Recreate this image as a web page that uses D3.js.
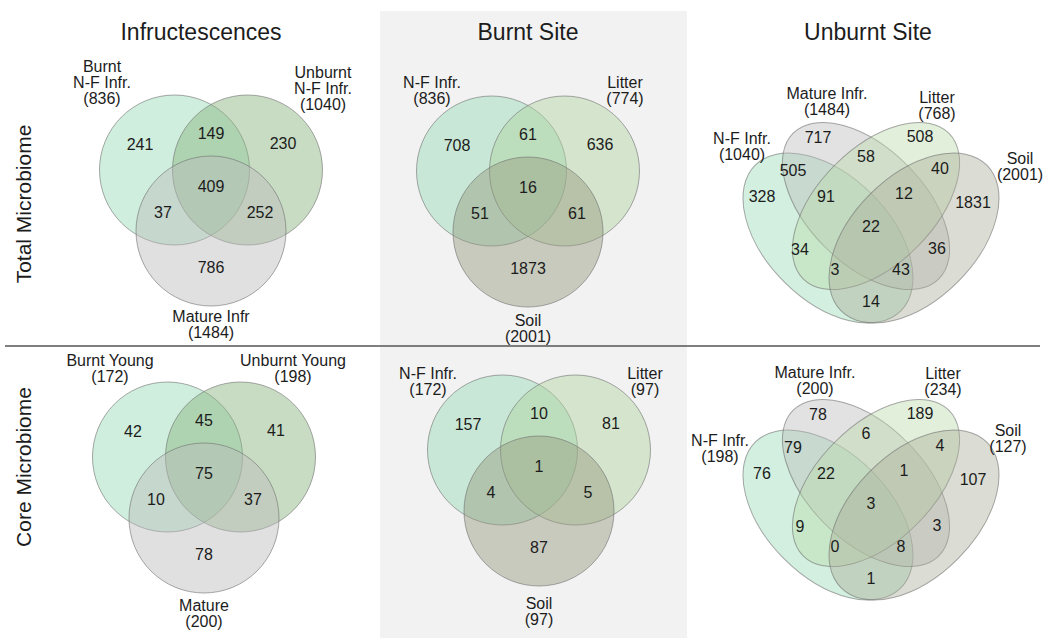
<!DOCTYPE html>
<html>
<head>
<meta charset="utf-8">
<script src="https://cdn.jsdelivr.net/npm/d3@7"></script>
<style>
  body { margin: 0; background: #fff; }
  text { font-family: "Liberation Sans", Arial, sans-serif; fill: #1c1c1c; }
</style>
</head>
<body>
<svg id="chart" width="1045" height="638"></svg>
<script>
// ---- data ----
var columnTitles = ["Infructescences", "Burnt Site", "Unburnt Site"];
var rowTitles = ["Total Microbiome", "Core Microbiome"];

// 3-set regions: onlyA, A&B, onlyB, A&B&C, A&C, B&C, onlyC
var infrTotalNames = [["Burnt", "N-F Infr."], ["Unburnt", "N-F Infr."], ["Mature Infr"]];
var infrTotalSizes = [836, 1040, 1484];
var infrTotalRegions = [241, 149, 230, 409, 37, 252, 786];

var burntTotalNames = [["N-F Infr."], ["Litter"], ["Soil"]];
var burntTotalSizes = [836, 774, 2001];
var burntTotalRegions = [708, 61, 636, 16, 51, 61, 1873];

var infrCoreNames = [["Burnt Young"], ["Unburnt Young"], ["Mature"]];
var infrCoreSizes = [172, 198, 200];
var infrCoreRegions = [42, 45, 41, 75, 10, 37, 78];

var burntCoreNames = [["N-F Infr."], ["Litter"], ["Soil"]];
var burntCoreSizes = [172, 97, 97];
var burntCoreRegions = [157, 10, 81, 1, 4, 5, 87];

// 4-set regions: NF, M, L, S, NF&M, M&L, L&S, NF&L, M&S, NF&S,
//                NF&M&L, M&L&S, NF&L&S, NF&M&S, all
var unburntNames = [["N-F Infr."], ["Mature Infr."], ["Litter"], ["Soil"]];
var unburntTotalSizes = [1040, 1484, 768, 2001];
var unburntTotalRegions = [328, 717, 508, 1831, 505, 58, 40, 34, 36, 14, 91, 12, 3, 43, 22];
var unburntCoreSizes = [198, 200, 234, 127];
var unburntCoreRegions = [76, 78, 189, 107, 79, 6, 4, 9, 3, 1, 22, 1, 0, 8, 3];

// ---- layout ----
var svg = d3.select("#chart");

var colorNF = "#94d9b3", colorUnNF = "#85b17c", colorMature = "#bababa",
    colorLitter = "#afd3a0", colorSoil = "#95997e",
    colorLitter4 = "#b9dcaa", colorSoil4 = "#a9ab97";

svg.append("rect")
    .attr("x", 380).attr("y", 11)
    .attr("width", 307).attr("height", 627)
    .attr("fill", "#f2f2f2");

// circle offsets and region label offsets for 3-set panels
var circ3 = [[-36.5, -20], [36.5, -20], [0, 41]];
var r3 = 75;
var lab3 = [[-71, -46], [0, -57], [72, -47], [0, -4], [-48, 22], [49, 22], [0, 77]];

// ellipse geometry for 4-set panels: cx, cy, rx, ry, angle
var ell4 = [[-43, 12, 103, 62, 45], [-5, -20, 103, 58, 45], [5, -20, 103, 58, -45], [43, 12, 103, 62, -45]];
var lab4 = [[-109, -30], [-53, -89], [49, -90], [102, -24], [-78, -56], [-5, -70], [69, -58],
            [-71, 23], [66, 22], [0, 75], [-45, -30], [33, -33], [-36, 43], [30, 43], [0, 0]];

var panels = [
  {type: 3, ox: 211, oy: 190, names: infrTotalNames, sizes: infrTotalSizes, regions: infrTotalRegions,
   colors: [colorNF, colorUnNF, colorMature],
   setLab: [[-109, -124], [112, -118], [0, 126]]},
  {type: 3, ox: 528, oy: 191, names: burntTotalNames, sizes: burntTotalSizes, regions: burntTotalRegions,
   colors: [colorNF, colorLitter, colorSoil],
   setLab: [[-96, -109], [97, -109], [0, 129]]},
  {type: 4, ox: 871, oy: 226, names: unburntNames, sizes: unburntTotalSizes, regions: unburntTotalRegions,
   colors: [colorNF, colorMature, colorLitter4, colorSoil4],
   setLab: [[-129, -88], [-44, -133], [66, -129], [149, -68]]},
  {type: 3, ox: 204, oy: 477, names: infrCoreNames, sizes: infrCoreSizes, regions: infrCoreRegions,
   colors: [colorNF, colorUnNF, colorMature],
   setLab: [[-94, -117], [89, -117], [0, 128]]},
  {type: 3, ox: 539, oy: 470, names: burntCoreNames, sizes: burntCoreSizes, regions: burntCoreRegions,
   colors: [colorNF, colorLitter, colorSoil],
   setLab: [[-111, -97], [106, -97], [0, 133]]},
  {type: 4, ox: 871, oy: 503, names: unburntNames, sizes: unburntCoreSizes, regions: unburntCoreRegions,
   colors: [colorNF, colorMature, colorLitter4, colorSoil4],
   setLab: [[-151, -63], [-56, -131], [72, -130], [137, -73]]}
];

panels.forEach(function (p) {
  // local scales: layout units -> pixels
  var x = d3.scaleLinear().domain([-150, 150]).range([p.ox - 150, p.ox + 150]);
  var y = d3.scaleLinear().domain([-150, 150]).range([p.oy - 150, p.oy + 150]);
  var g = svg.append("g");

  if (p.type === 3) {
    g.selectAll("circle").data(circ3).enter().append("circle")
        .attr("cx", function (d) { return x(d[0]); })
        .attr("cy", function (d) { return y(d[1]); })
        .attr("r", x(r3) - x(0))
        .attr("fill", function (d, i) { return p.colors[i]; })
        .attr("fill-opacity", 0.45)
        .attr("stroke", "#6f6f6f").attr("stroke-opacity", 0.6);
  } else {
    g.selectAll("ellipse").data(ell4).enter().append("ellipse")
        .attr("cx", function (d) { return x(d[0]); })
        .attr("cy", function (d) { return y(d[1]); })
        .attr("rx", function (d) { return x(d[2]) - x(0); })
        .attr("ry", function (d) { return y(d[3]) - y(0); })
        .attr("transform", function (d) { return "rotate(" + d[4] + "," + x(d[0]) + "," + y(d[1]) + ")"; })
        .attr("fill", function (d, i) { return p.colors[i]; })
        .attr("fill-opacity", 0.42)
        .attr("stroke", "#6f6f6f").attr("stroke-opacity", 0.6);
  }

  var labs = p.type === 3 ? lab3 : lab4;
  g.selectAll("text.count").data(p.regions).enter().append("text")
      .attr("class", "count")
      .attr("x", function (d, i) { return x(labs[i][0]); })
      .attr("y", function (d, i) { return y(labs[i][1]); })
      .attr("dy", "0.35em")
      .attr("text-anchor", "middle")
      .attr("font-size", 16)
      .text(function (d) { return d; });

  p.names.forEach(function (nm, i) {
    var lines = nm.concat(["(" + p.sizes[i] + ")"]);
    var t = g.append("text")
        .attr("text-anchor", "middle")
        .attr("font-size", 16);
    lines.forEach(function (ln, k) {
      t.append("tspan")
          .attr("x", x(p.setLab[i][0]))
          .attr("y", y(p.setLab[i][1] + k * 16))
          .attr("dy", "0.35em")
          .text(ln);
    });
  });
});

// column titles
var colX = d3.scaleOrdinal().domain(columnTitles).range([201, 528, 868]);
svg.selectAll("text.title").data(columnTitles).enter().append("text")
    .attr("class", "title")
    .attr("x", function (d) { return colX(d); })
    .attr("y", 40)
    .attr("text-anchor", "middle")
    .attr("font-size", 23)
    .text(function (d) { return d; });

// row titles
var rowY = d3.scaleOrdinal().domain(rowTitles).range([204, 467]);
svg.selectAll("text.row").data(rowTitles).enter().append("text")
    .attr("class", "row")
    .attr("transform", function (d) { return "translate(24," + rowY(d) + ") rotate(-90)"; })
    .attr("dy", "0.35em")
    .attr("text-anchor", "middle")
    .attr("font-size", 21)
    .text(function (d) { return d; });

// separator
svg.append("line")
    .attr("x1", 5).attr("x2", 1040)
    .attr("y1", 346).attr("y2", 346)
    .attr("stroke", "#555").attr("stroke-width", 1.5);
</script>
</body>
</html>
